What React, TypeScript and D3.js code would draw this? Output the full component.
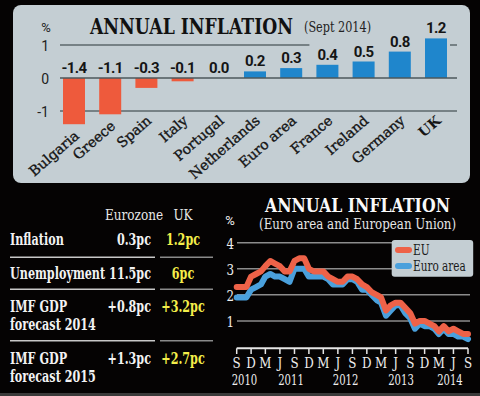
import React, { useLayoutEffect, useRef, useState } from "react";
import * as d3 from "d3";

// ---------- Data ----------
const countries = ["Bulgaria", "Greece", "Spain", "Italy", "Portugal", "Netherlands", "Euro area", "France", "Ireland", "Germany", "UK"];
const inflationSept2014 = [-1.4, -1.1, -0.3, -0.1, 0.0, 0.2, 0.3, 0.4, 0.5, 0.8, 1.2];
const barTicks = [1, 0, -1];

const tableHeaders = ["Eurozone", "UK"];
const tableRowLabels = [["Inflation"], ["Unemployment"], ["IMF GDP", "forecast 2014"], ["IMF GDP", "forecast 2015"]];
const eurozoneValues = ["0.3pc", "11.5pc", "+0.8pc", "+1.3pc"];
const ukValues = ["1.2pc", "6pc", "+3.2pc", "+2.7pc"];

const startMonth = new Date(2010, 8, 1); // Sep 2010
const euValues = [
  2.3, 2.3, 2.3, 2.7,
  2.8, 2.9, 3.1, 3.3, 3.2, 3.1, 2.9, 2.9, 3.3, 3.4, 3.4, 3.0,
  2.9, 2.9, 2.9, 2.7, 2.6, 2.5, 2.5, 2.7, 2.7, 2.6, 2.4, 2.3,
  2.1, 2.0, 1.9, 1.4, 1.6, 1.7, 1.7, 1.5, 1.3, 0.9, 1.0, 1.0,
  0.9, 0.8, 0.6, 0.8, 0.6, 0.7, 0.6, 0.5, 0.5,
];
const euroAreaValues = [
  1.9, 1.9, 1.9, 2.2,
  2.3, 2.4, 2.7, 2.8, 2.7, 2.7, 2.6, 2.5, 3.0, 3.0, 3.0, 2.7,
  2.7, 2.7, 2.7, 2.6, 2.4, 2.4, 2.4, 2.6, 2.6, 2.5, 2.2, 2.2,
  2.0, 1.8, 1.7, 1.2, 1.4, 1.6, 1.6, 1.3, 1.1, 0.7, 0.9, 0.8,
  0.8, 0.7, 0.5, 0.7, 0.5, 0.5, 0.4, 0.4, 0.3,
];
const lineTicks = [1, 2, 3, 4];
const yearLabels = ["2010", "2011", "2012", "2013", "2014"];
const yearLabelDates = [new Date(2010, 9, 20), new Date(2011, 7, 10), new Date(2012, 6, 20), new Date(2013, 6, 5), new Date(2014, 4, 10)];
const legendNames = ["EU", "Euro area"];

// ---------- Styles ----------
const RED = "#ee5a3c";
const BLUE = "#1f86cc";
const LINE_RED = "#ee6248";
const LINE_BLUE = "#4aa0dc";
const PANEL = "#c4ced3";
const SERIF = "'DejaVu Serif', 'Liberation Serif', serif";
const SANS = "Roboto, 'DejaVu Sans', sans-serif";

function CText({ x, y, sx = 1, anchor = "start", children, ...rest }: any) {
  return (
    <text transform={`translate(${x},${y}) scale(${sx},1)`} textAnchor={anchor} {...rest}>
      {children}
    </text>
  );
}

// text squeezed horizontally to a target width
function FitText({ x, y, width, anchor = "start", children, ...rest }: any) {
  const ref = useRef<SVGTextElement>(null);
  const [sx, setSx] = useState(0.75);
  useLayoutEffect(() => {
    if (ref.current) {
      const w = ref.current.getComputedTextLength();
      if (w > 0) setSx(width / w);
    }
  }, [width, children]);
  return (
    <text ref={ref} transform={`translate(${x},${y}) scale(${sx},1)`} textAnchor={anchor} {...rest}>
      {children}
    </text>
  );
}

export default function App() {
  // ---- bar chart scales ----
  const xBar = d3.scalePoint<string>().domain(countries).range([74, 436]);
  const yBar = d3.scaleLinear().domain([-1, 1]).range([111, 45]);
  const barW = 22;

  // ---- line chart scales ----
  const nMonths = euValues.length;
  const endMonth = d3.timeMonth.offset(startMonth, nMonths - 1);
  const xLine = d3.scaleTime().domain([startMonth, endMonth]).range([236.7, 468]);
  const yLine = d3.scaleLinear().domain([0, 4]).range([347, 242.7]);
  const monthDate = (i: number) => d3.timeMonth.offset(startMonth, i);
  const line = d3
    .line<number>()
    .x((_, i) => xLine(monthDate(i)))
    .y((d) => yLine(d));
  const quarterTicks = d3.range(0, nMonths, 3).map(monthDate);
  const fmtMonth = d3.timeFormat("%b");

  const rowBaselines = [245, 278.7, 311.7, 364.3];
  const sepYs = [257.3, 289.3, 340.7];

  return (
    <svg width={480} height={396} style={{ position: "absolute", left: 0, top: 0 }}>
      <rect x={0} y={0} width={480} height={396} fill="#050303" />
      <rect x={0} y={393} width={480} height={3} fill="#3a3a3a" />

      {/* ---------- Top panel ---------- */}
      <rect x={13} y={5} width={457} height={178} rx={8} fill={PANEL} />
      <text x={46} y={32} textAnchor="middle" fontFamily={SANS} fontSize={13} fill="#222">%</text>
      <FitText x={90} y={34} width={203} fontFamily={SERIF} fontWeight={900} fontSize={22} fill="#111">ANNUAL INFLATION</FitText>
      <FitText x={304} y={32} width={67} fontFamily={SERIF} fontSize={14} fill="#222">(Sept 2014)</FitText>

      {barTicks.map((t) => (
        <text key={t} x={49} y={yBar(t) + 6} textAnchor="end" fontFamily={SANS} fontSize={14} fill="#222">{t}</text>
      ))}
      {/* gridlines */}
      <line x1={60} x2={xBar("France")! - 18} y1={yBar(1)} y2={yBar(1)} stroke="#5d676b" strokeWidth={1.5} />
      <line x1={xBar("UK")! + 14} x2={457} y1={yBar(1)} y2={yBar(1)} stroke="#5d676b" strokeWidth={1.5} />
      <line x1={60} x2={457} y1={yBar(-1)} y2={yBar(-1)} stroke="#5d676b" strokeWidth={1.5} />

      {countries.map((c, i) => {
        const v = inflationSept2014[i];
        const cx = xBar(c)!;
        const y0 = yBar(0);
        const yv = yBar(v);
        const top = Math.min(y0, yv);
        const h = Math.abs(yv - y0);
        const bottom = Math.max(y0, yv);
        const lx = cx + 6;
        const ly = Math.max(122, bottom + 13);
        return (
          <g key={c}>
            {h > 0 && <rect x={cx - barW / 2} y={top} width={barW} height={h} fill={v < 0 ? RED : BLUE} />}
            <text x={cx} y={top - 5} textAnchor="middle" fontFamily={SANS} fontWeight={700} fontSize={15} letterSpacing={-0.6} fill="#151515">
              {v.toFixed(1)}
            </text>
            <text
              transform={`translate(${lx},${ly}) rotate(-41)`}
              textAnchor="end"
              fontFamily={SERIF}
              fontWeight={c === "UK" ? 900 : 400}
              fontSize={14}
              stroke="#151515"
              strokeWidth={c === "UK" ? 0 : 0.35}
              fill="#151515"
            >
              {c}
            </text>
          </g>
        );
      })}
      <line x1={60} x2={457} y1={yBar(0)} y2={yBar(0)} stroke="#4d575b" strokeWidth={1.5} />

      {/* ---------- Table ---------- */}
      <CText x={105} y={220} sx={0.78} fontFamily={SERIF} fontSize={15.5} fill="#e8e8e8">{tableHeaders[0]}</CText>
      <CText x={183} y={220} sx={0.78} anchor="middle" fontFamily={SERIF} fontSize={15.5} fill="#e8e8e8">{tableHeaders[1]}</CText>
      {tableRowLabels.map((lines, r) => (
        <g key={r}>
          {lines.map((l, k) => (
            <CText key={k} x={10} y={rowBaselines[r] + k * 18} sx={0.7} fontFamily={SERIF} fontWeight={700} fontSize={16} fill="#f2f2f2">{l}</CText>
          ))}
          <CText x={151} y={rowBaselines[r]} sx={0.7} anchor="end" fontFamily={SERIF} fontWeight={700} fontSize={16} fill="#f2f2f2">{eurozoneValues[r]}</CText>
          <CText x={183} y={rowBaselines[r]} sx={0.7} anchor="middle" fontFamily={SERIF} fontWeight={700} fontSize={16} fill="#f4ee4a">{ukValues[r]}</CText>
        </g>
      ))}
      {sepYs.map((y) => (
        <g key={y}>
          <line x1={10} x2={155} y1={y} y2={y} stroke="#c8c8c8" strokeWidth={1.5} />
          <line x1={160} x2={213} y1={y} y2={y} stroke="#8a8a8a" strokeWidth={1.5} />
        </g>
      ))}

      {/* ---------- Line chart ---------- */}
      <FitText x={265} y={212.3} width={185} fontFamily={SERIF} fontWeight={900} fontSize={18} fill="#fafafa">ANNUAL INFLATION</FitText>
      <FitText x={259} y={229.3} width={197} fontFamily={SERIF} fontSize={14} fill="#e6e6e6">(Euro area and European Union)</FitText>
      <text x={230} y={225} textAnchor="middle" fontFamily={SANS} fontSize={13} fill="#eee">%</text>

      {lineTicks.map((t) => (
        <g key={t}>
          <line x1={237} x2={470} y1={yLine(t)} y2={yLine(t)} stroke="#8c8c8c" strokeWidth={1.5} />
          <CText x={234} y={yLine(t) + 6.5} sx={0.85} anchor="end" fontFamily={SERIF} fontSize={14} fill="#eee">{t}</CText>
        </g>
      ))}

      <path d={line(euroAreaValues)!} fill="none" stroke={LINE_BLUE} strokeWidth={6} strokeLinejoin="round" strokeLinecap="round" />
      <path d={line(euValues)!} fill="none" stroke={LINE_RED} strokeWidth={6} strokeLinejoin="round" strokeLinecap="round" />

      <line x1={xLine(startMonth)} x2={xLine(endMonth)} y1={348.3} y2={348.3} stroke="#e6e6e6" strokeWidth={2} />
      {quarterTicks.map((d, i) => (
        <g key={i}>
          <line x1={xLine(d)} x2={xLine(d)} y1={348.3} y2={354} stroke="#e6e6e6" strokeWidth={1.5} />
          <CText x={xLine(d)} y={368.3} sx={0.85} anchor="middle" fontFamily={SERIF} fontSize={14} fill="#eee">{fmtMonth(d).charAt(0)}</CText>
        </g>
      ))}
      {yearLabels.map((yl, i) => (
        <CText key={yl} x={xLine(yearLabelDates[i])} y={385} sx={0.72} anchor="middle" fontFamily={SERIF} fontSize={14} fill="#eee">{yl}</CText>
      ))}

      {/* legend */}
      <rect x={391.7} y={240} width={81.5} height={36.7} rx={3} fill={PANEL} />
      {legendNames.map((n, i) => (
        <g key={n}>
          <line x1={398} x2={409} y1={250 + i * 16} y2={250 + i * 16} stroke={i === 0 ? LINE_RED : LINE_BLUE} strokeWidth={6} strokeLinecap="round" />
          <CText x={413} y={255 + i * 16} sx={0.7} fontFamily={SERIF} fontSize={15} fill="#1a1a1a">{n}</CText>
        </g>
      ))}
    </svg>
  );
}
